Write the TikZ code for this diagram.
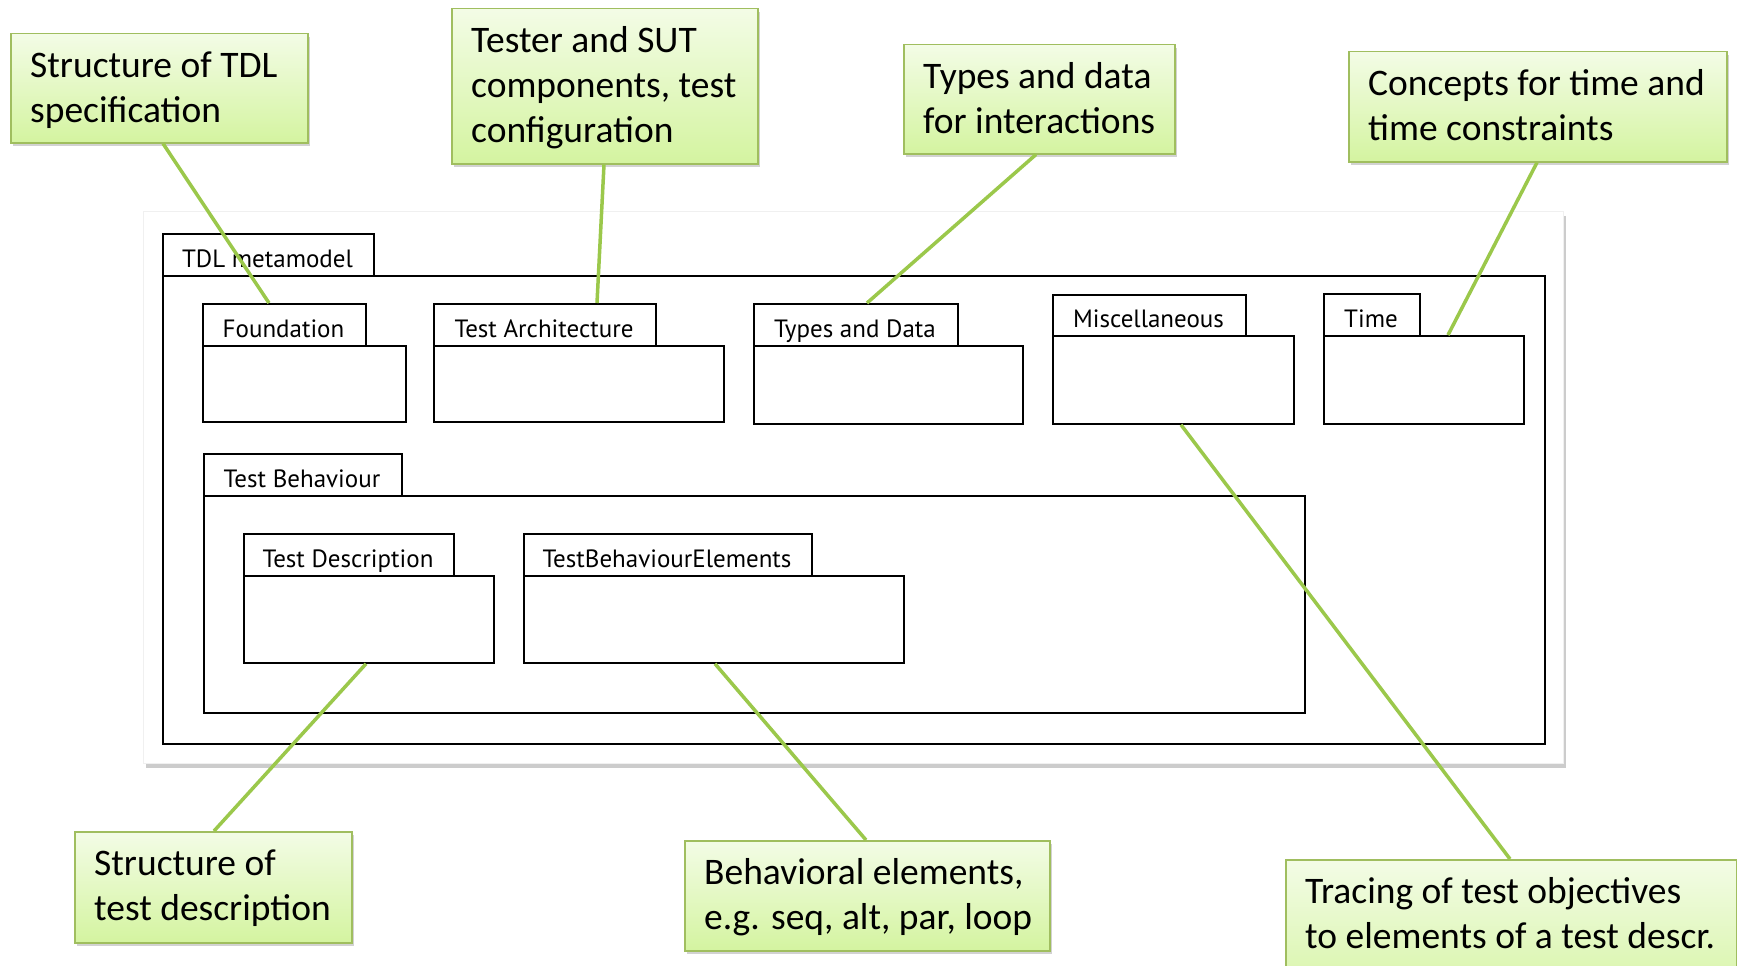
\documentclass[tikz,border=0pt]{standalone}
\usepackage{fontspec}
\setmainfont{Carlito}
\newfontfamily\pkgfont{PT Sans}
\usetikzlibrary{shadows,calc}
\definecolor{connc}{RGB}{155,200,75}
\definecolor{cborder}{RGB}{160,190,95}
\definecolor{ctop}{RGB}{243,252,230}
\definecolor{cbot}{RGB}{212,244,160}
\tikzset{
  callout/.style={draw=cborder, line width=1.5pt, top color=ctop, bottom color=cbot,
    anchor=north west, inner sep=0pt,
    drop shadow={shadow xshift=2pt, shadow yshift=-3pt, opacity=0.35}},
  ctext/.style={anchor=base west, align=left, font=\fontsize{37.5}{45}\selectfont, inner sep=0pt},
  pkgbox/.style={draw=black, line width=1.8pt, anchor=north west, inner sep=0pt, fill=white},
  pkglabel/.style={anchor=base, font=\pkgfont\fontsize{25}{28}\selectfont, inner sep=0pt},
  connector/.style={draw=connc, line width=3.5pt},
  panelbox/.style={draw=black!6, fill=white, anchor=north west, inner sep=0pt,
    drop shadow={shadow xshift=3pt, shadow yshift=-5pt, opacity=0.4}},
}
% #1 name, #2 label, #3 tabL, #4 tabR, #5 tabT, #6 bodyT, #7 bodyR, #8 bodyB
\newcommand\pkgdraw[8]{%
  \node[pkgbox, minimum width={(#7-#3)*1pt}, minimum height={(#8-#6)*1pt}] (#1body) at (#3,#6) {};
  \node[pkgbox, minimum width={(#4-#3)*1pt}, minimum height={(#6-#5)*1pt}] (#1tab) at (#3,#5) {};
  \node[pkglabel] (#1lab) at ({(#3+#4)/2},{#6-8}) {#2};
}
% #1 name, #2 left, #3 top, #4 right, #5 bottom, #6 number of lines, #7 text
\newcommand\callout[7]{%
  \node[callout, minimum width={(#4-#2)*1pt}, minimum height={(#5-#3)*1pt}] (#1) at (#2,#3) {};
  \node[ctext] (#1t) at ({#2+20},{#3+44+(#6-1)*45}) {#7};
}
\begin{document}
\begin{tikzpicture}[x=1pt,y=-1pt]
\useasboundingbox (0,0) rectangle (1737,966);
\fill[white] (0,0) rectangle (1737,966);

\node[panelbox, minimum width=1420pt, minimum height=552pt] (panel) at (143,211) {};

\pkgdraw{tdl}{TDL metamodel}{162}{373}{233}{275}{1544}{743}
\pkgdraw{found}{Foundation}{202}{365}{303}{345}{405}{421}
\pkgdraw{arch}{Test Architecture}{433}{655}{303}{345}{723}{421}
\pkgdraw{types}{Types and Data}{753}{957}{303}{345}{1022}{423}
\pkgdraw{misc}{Miscellaneous}{1052}{1245}{294}{335}{1293}{423}
\pkgdraw{time}{Time}{1323}{1419}{293}{335}{1523}{423}
\pkgdraw{beh}{Test Behaviour}{203}{401}{453}{495}{1304}{712}
\pkgdraw{desc}{Test Description}{243}{453}{533}{575}{493}{662}
\pkgdraw{tbe}{TestBehaviourElements}{523}{811}{533}{575}{903}{662}

\callout{c1}{10}{33}{307}{142}{2}{Structure of TDL\\specification}
\callout{c2}{451}{8}{757}{163}{3}{Tester and SUT\\components, test\\configuration}
\callout{c3}{903}{44}{1174}{153}{2}{Types and data\\for interactions}
\callout{c4}{1348}{51}{1726}{161}{2}{Concepts for time and\\time constraints}
\callout{c5}{74}{831}{351}{942}{2}{Structure of\\test description}
\callout{c6}{684}{840}{1049}{950}{2}{Behavioral elements,\\e.g. seq, alt, par, loop}
\callout{c7}{1285}{859}{1736}{1010}{2}{Tracing of test objectives\\to elements of a test descr.}

\draw[connector] ([xshift=153pt]c1.south west) -- ([xshift=67pt]foundtab.north west);
\draw[connector] ([xshift=153pt]c2.south west) -- ([xshift=164pt]archtab.north west);
\draw[connector] ([xshift=133pt]c3.south west) -- ([xshift=114pt]typestab.north west);
\draw[connector] ([xshift=189pt]c4.south west) -- ([xshift=125pt]timebody.north west);
\draw[connector] ([xshift=140pt]c5.north west) -- ([xshift=123pt]descbody.south west);
\draw[connector] ([xshift=182pt]c6.north west) -- ([xshift=192pt]tbebody.south west);
\draw[connector] ([xshift=225pt]c7.north west) -- ([xshift=129pt]miscbody.south west);
\end{tikzpicture}
\end{document}
